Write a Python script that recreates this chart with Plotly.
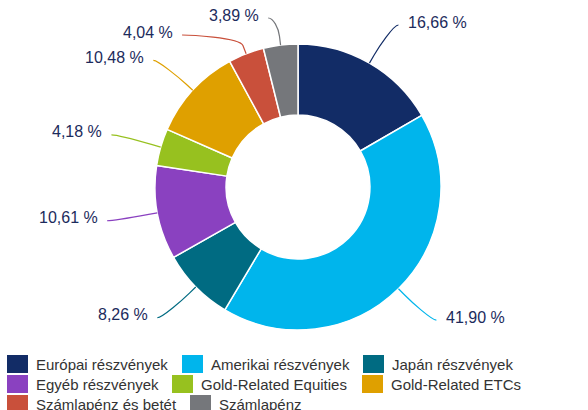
import math
import plotly.graph_objects as go

# ---- data ----
categories = ["Európai részvények", "Amerikai részvények", "Japán részvények",
              "Egyéb részvények", "Gold-Related Equities", "Gold-Related ETCs",
              "Számlapénz és betét", "Számlapénz"]
values = [16.66, 41.90, 8.26, 10.61, 4.18, 10.48, 4.04, 3.89]
colors = ["#122c66", "#00b5ec", "#006b82", "#8a41c0", "#97c11f", "#dfa000",
          "#c9503b", "#75777b"]
value_labels = ["16,66 %", "41,90 %", "8,26 %", "10,61 %", "4,18 %", "10,48 %",
                "4,04 %", "3,89 %"]

# ---- layout constants (pixels) ----
W, H = 588, 410
CX, CY, R = 298.0, 187.0, 143.0
DIST = 44.0          # label distance beyond the outer radius
PAD = 7.0            # gap between connector end and circle x
TEXT_GAP = 7.5
MIN_Y, SPACING = 18.0, 17.0
FONT = "Liberation Sans, Arial, Helvetica, sans-serif"
LABEL_COLOR = "#1c2b5c"
LEGEND_ROWS = [[0, 1, 2], [3, 4, 5], [6, 7]]
LEGEND_X = [[7, 182, 363], [7, 172, 362], [7, 190]]
LEGEND_TOP = 355
LEGEND_PITCH = 20

fig = go.Figure()

fig.add_trace(go.Pie(
    labels=categories, values=values, sort=False, direction="clockwise",
    rotation=0, hole=0.503, textinfo="none", showlegend=False,
    marker=dict(colors=colors, line=dict(color="white", width=1.5)),
    domain=dict(x=[(CX - R) / W, (CX + R) / W],
                y=[(H - CY - R) / H, (H - CY + R) / H]),
    hovertemplate="%{label}: %{value:.2f} %<extra></extra>",
))

# ---- data labels with connectors (positions derived from the values) ----
total = sum(values)
cum = 0.0
info = []
for i, v in enumerate(values):
    mid = (cum + v / 2) / total
    cum += v
    th = 2 * math.pi * mid
    dx, dy = math.sin(th), -math.cos(th)
    left = dx < 0
    y_nat = CY + (R + DIST) * dy
    info.append(dict(i=i, dx=dx, dy=dy, left=left, y=y_nat, y_nat=y_nat))


def circle_x(y, left):
    rr = R + DIST
    d = max(-1.0, min(1.0, (y - CY) / rr))
    x = math.cos(math.asin(d)) * rr
    return CX + (-x - PAD if left else x + PAD)


for side in (True, False):
    items = sorted([p for p in info if p["left"] == side], key=lambda p: p["y"])
    prev = None
    for p in items:
        p["x"] = circle_x(p["y_nat"], side)
        if prev is None:
            if p["y"] < MIN_Y:
                p["y"] = MIN_Y  # clamp at top bound, keep x
        elif p["y"] < prev + SPACING:
            p["y"] = prev + SPACING
            p["x"] = circle_x(p["y"], side)
        prev = p["y"]

shapes = []
annotations = []
for p in info:
    i = p["i"]
    tx, ty = R * p["dx"] + CX, R * p["dy"] + CY
    brk = R + DIST / 5
    bx, by = CX + brk * p["dx"], CY + brk * p["dy"]
    c2x, c2y = 2 * bx - tx, 2 * by - ty
    lx, ly = p["x"], p["y"]
    c1x = lx + (5 if p["left"] else -5)
    path = (f"M {lx:.2f} {ly:.2f} C {c1x:.2f} {ly:.2f} {c2x:.2f} {c2y:.2f} "
            f"{bx:.2f} {by:.2f} L {tx:.2f} {ty:.2f}")
    shapes.append(dict(type="path", xref="x", yref="y", path=path,
                       line=dict(color=colors[i], width=1.2), layer="above"))
    annotations.append(dict(
        x=lx - TEXT_GAP if p["left"] else lx + TEXT_GAP, y=ly - 3,
        xref="x", yref="y", text=value_labels[i], showarrow=False,
        xanchor="right" if p["left"] else "left", yanchor="middle",
        font=dict(family=FONT, size=16, color=LABEL_COLOR)))

# ---- legend drawn as swatches + text ----
for r, row in enumerate(LEGEND_ROWS):
    top = LEGEND_TOP + r * LEGEND_PITCH
    for c, idx in enumerate(row):
        x0 = LEGEND_X[r][c]
        shapes.append(dict(type="rect", xref="x", yref="y", x0=x0, x1=x0 + 21,
                           y0=top, y1=top + 18, fillcolor=colors[idx],
                           line=dict(width=0), layer="above"))
        annotations.append(dict(
            x=x0 + 27, y=top + 9.5, xref="x", yref="y", text=categories[idx],
            showarrow=False, xanchor="left", yanchor="middle",
            font=dict(family=FONT, size=15, color="#333333")))

fig.update_layout(
    width=W, height=H, margin=dict(l=0, r=0, t=0, b=0),
    paper_bgcolor="white", plot_bgcolor="rgba(0,0,0,0)",
    xaxis=dict(range=[0, W], visible=False, fixedrange=True, domain=[0, 1]),
    yaxis=dict(range=[H, 0], visible=False, fixedrange=True, domain=[0, 1]),
    shapes=shapes, annotations=annotations, showlegend=False,
)

fig.write_html("out.html", config={"displayModeBar": False},
               post_script="document.body.style.margin='0';"
                           "document.body.style.overflow='hidden';")
